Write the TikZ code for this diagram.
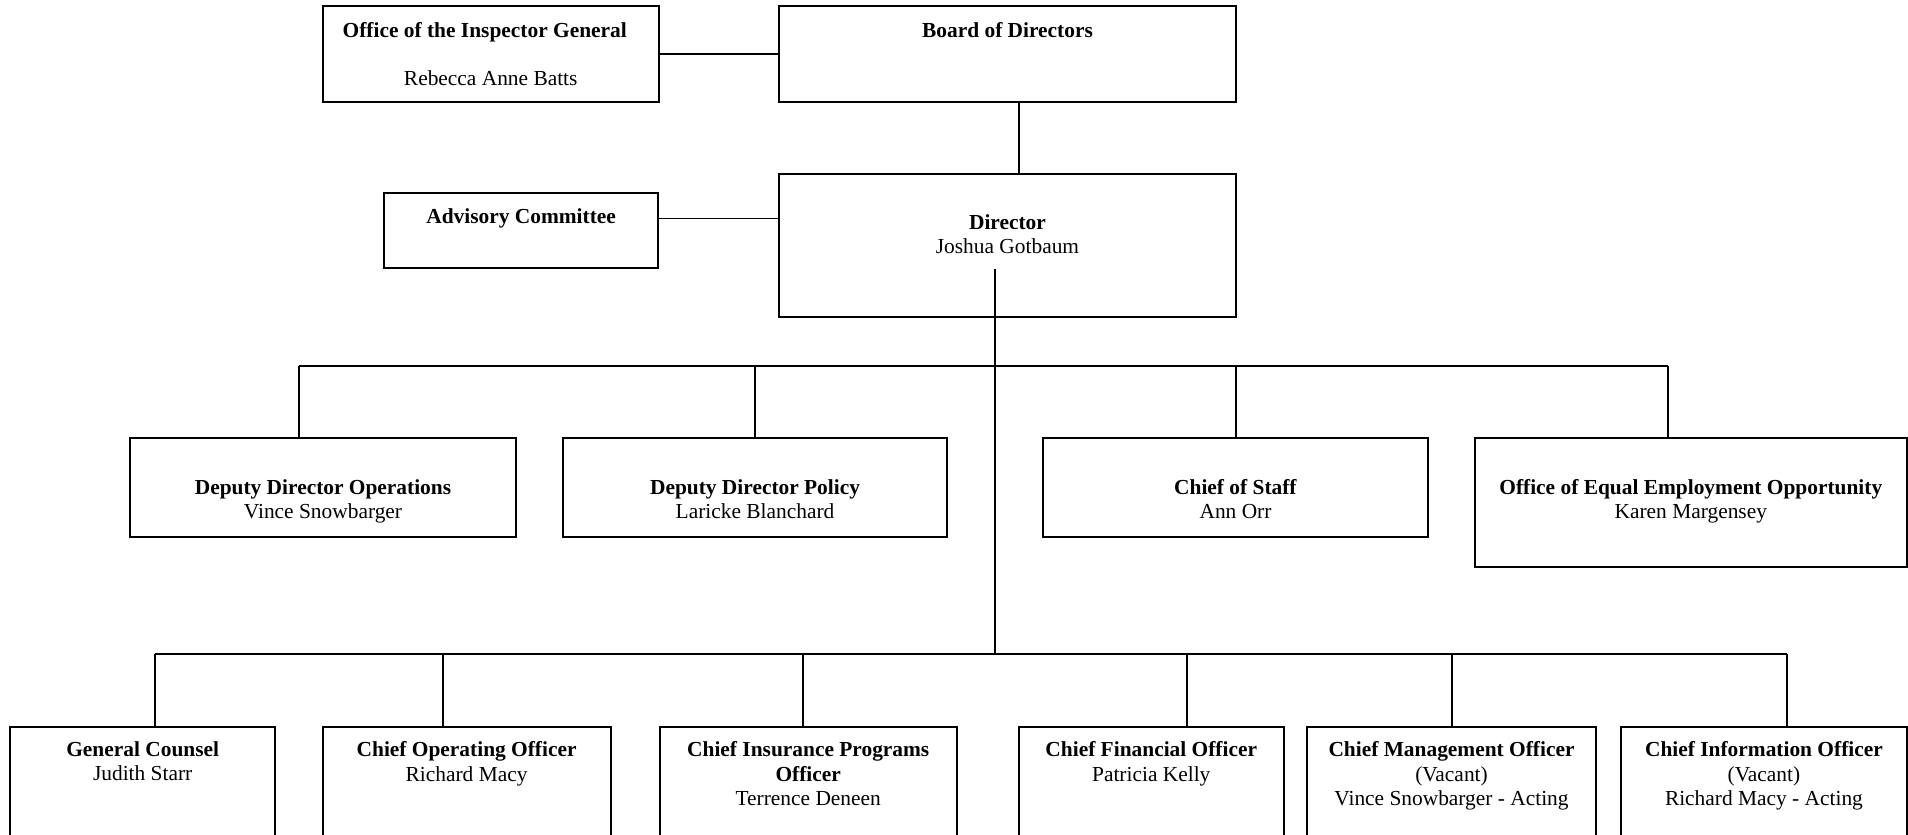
\documentclass[tikz,border=0pt]{standalone}
\usepackage{fontspec}
\setmainfont{Liberation Serif}
\usetikzlibrary{positioning,fit}

\begin{document}
\begin{tikzpicture}[x=0.5pt,y=-0.5pt,
    every node/.style={font=\fontsize{10.7}{12.1}\selectfont},
    unit/.style={draw,line width=1pt,inner sep=0pt},
    lbl/.style={align=center,inner sep=0pt},
    link/.style={line width=0.75pt}]
  \clip (0,0) rectangle (1908,835);
  % top of the chart
  \node[unit,fit={(322.7,6) (658.8,102)}] (oig) {};
  \node[unit,fit={(779,6) (1236,102)}] (board) {};
  \node[unit,fit={(384,192.7) (658.2,268)}] (adv) {};
  \node[unit,fit={(779,174) (1236,317)}] (dir) {};
  \node[lbl,below=8.6pt of oig.north] (oigT)
    {\textbf{Office of the Inspector General}\hspace*{6pt}\\[12pt]Rebecca Anne Batts};
  \node[lbl,below=8.6pt of board.north] (boardT) {\textbf{Board of Directors}};
  \node[lbl,below=8.4pt of adv.north] (advT) {\textbf{Advisory Committee}};
  \node[lbl,below=20.75pt of dir.north] (dirT) {\textbf{Director}\\Joshua Gotbaum};
  % second row
  \node[unit,fit={(130.4,438.3) (515.6,537.3)}] (ddo) {};
  \node[unit,fit={(562.8,438.3) (947.3,537.3)}] (ddp) {};
  \node[unit,fit={(1043,438.3) (1428,537.3)}] (cos) {};
  \node[unit,fit={(1475,438.3) (1906.6,567.3)}] (eeo) {};
  \node[lbl,below=20.75pt of ddo.north] (ddoT)
    {\textbf{Deputy Director Operations}\\Vince Snowbarger};
  \node[lbl,below=20.75pt of ddp.north] (ddpT)
    {\textbf{Deputy Director Policy}\\Laricke Blanchard};
  \node[lbl,below=20.75pt of cos.north] (cosT) {\textbf{Chief of Staff}\\Ann Orr};
  \node[lbl,below=20.75pt of eeo.north] (eeoT)
    {\textbf{Office of Equal Employment Opportunity}\\Karen Margensey};
  % third row
  \node[unit,fit={(10.4,726.7) (275,880)}] (gc) {};
  \node[unit,fit={(322.7,726.7) (610.5,880)}] (coo) {};
  \node[unit,fit={(659.5,726.7) (957,880)}] (cipo) {};
  \node[unit,fit={(1019,726.7) (1283.5,880)}] (cfo) {};
  \node[unit,fit={(1307.4,726.7) (1595.6,880)}] (cmo) {};
  \node[unit,fit={(1620.7,726.7) (1907.2,880)}] (cio) {};
  \node[lbl,below=7.9pt of gc.north] (gcT) {\textbf{General Counsel}\\Judith Starr};
  \node[lbl,below=7.9pt of coo.north] (cooT)
    {\textbf{Chief Operating Officer}\\Richard Macy};
  \node[lbl,below=7.9pt of cipo.north] (cipoT)
    {\textbf{Chief Insurance Programs}\\\textbf{Officer}\\Terrence Deneen};
  \node[lbl,below=7.9pt of cfo.north] (cfoT)
    {\textbf{Chief Financial Officer}\\Patricia Kelly};
  \node[lbl,below=7.9pt of cmo.north] (cmoT)
    {\textbf{Chief Management Officer}\\(Vacant)\\Vince Snowbarger - Acting};
  \node[lbl,below=7.9pt of cio.north] (cioT)
    {\textbf{Chief Information Officer}\\(Vacant)\\Richard Macy - Acting};
  % connectors
  \draw[link] (oig) -- (board);
  \draw[link] ([yshift=6pt]adv.east) -- ([yshift=6pt]adv.east -| dir.west);
  \draw[link] ([xshift=5.75pt]board.south) -- ([xshift=5.75pt]dir.north);
  \coordinate (stem) at (995,269);
  \coordinate (bus) at (995,654);
  \draw[link] (stem) -- (bus);
  \foreach \n/\x in {ddo/299,ddp/755,cos/1236,eeo/1668} {
    \coordinate (t\n) at (\x,366);
    \draw[link] (t\n) -- (t\n |- \n.north);
  }
  \draw[link] (tddo) -- (teeo);
  \foreach \n/\x in {gc/155,coo/443,cipo/803,cfo/1187,cmo/1452,cio/1787} {
    \coordinate (t\n) at (\x,654);
    \draw[link] (t\n) -- (t\n |- \n.north);
  }
  \draw[link] (tgc) -- (tcio);
\end{tikzpicture}
\end{document}
